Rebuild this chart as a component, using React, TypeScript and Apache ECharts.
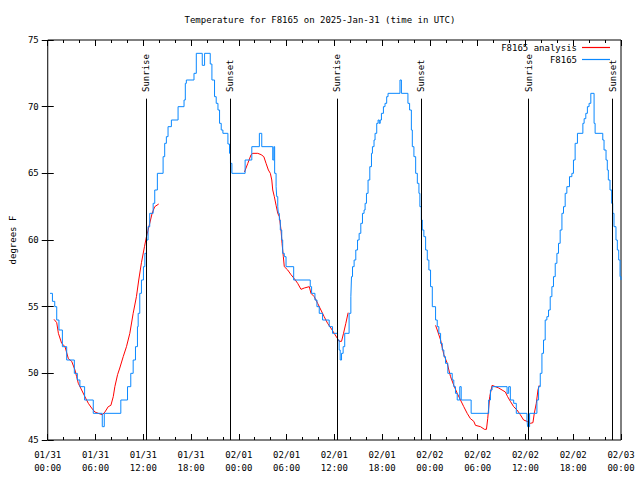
import React, { useEffect, useRef } from "react";
import * as echarts from "echarts";

const titleText = "Temperature for F8165 on 2025-Jan-31 (time in UTC)";
const yAxisName = "degrees F";
const analysisName = "F8165 analysis";
const stationName = "F8165";

const xTickDates = ["01/31", "01/31", "01/31", "01/31", "02/01", "02/01", "02/01", "02/01", "02/02", "02/02", "02/02", "02/02", "02/03"];
const xTickTimes = ["00:00", "06:00", "12:00", "18:00", "00:00", "06:00", "12:00", "18:00", "00:00", "06:00", "12:00", "18:00", "00:00"];

// Sun events (hours since 01/31 00:00 UTC)
const eventHours = [12.36, 22.88, 36.35, 46.87, 60.39, 70.94];
const eventNames = ["Sunrise", "Sunset", "Sunrise", "Sunset", "Sunrise", "Sunset"];
const eventLineTop = 70.6;
const eventLabelBase = 71.1;

// F8165 observations: [hours, degF] (held until next point)
const stationObs: [number, number][] = [
  [0.29, 56.0], [0.59, 55.4], [0.88, 55.0], [1.13, 54.0], [1.41, 53.25], [1.84, 52.0], [2.38, 51.0],
  [3.34, 50.0], [3.72, 49.5], [4.04, 49.0], [4.63, 48.0], [5.72, 47.0], [6.85, 46.0], [7.1, 47.0],
  [9.18, 48.0], [10.02, 49.0], [10.43, 50.0], [10.73, 51.0], [11.02, 52.0], [11.27, 53.5], [11.36, 54.5],
  [11.56, 56.0], [11.77, 57.0], [12.02, 58.0], [12.2, 59.0], [12.4, 60.0], [12.6, 61.0], [12.81, 62.0],
  [13.24, 62.75], [13.44, 63.75], [13.77, 65.0], [14.49, 66.25], [14.69, 67.25], [14.9, 67.75],
  [15.11, 68.5], [15.53, 69.0], [16.37, 70.0], [17.12, 70.5], [17.28, 71.75], [17.41, 72.0],
  [18.37, 72.5], [18.66, 74.0], [19.41, 73.1], [19.7, 74.0], [20.41, 73.2], [20.62, 72.0],
  [20.95, 70.75], [21.16, 70.25], [21.38, 69.75], [21.58, 68.75], [21.79, 68.25], [22.0, 68.0],
  [22.63, 67.2], [22.83, 66.5], [22.95, 65.75], [23.13, 65.0], [24.79, 66.0], [25.63, 67.0],
  [26.58, 68.0], [26.88, 67.0], [28.26, 66.0], [28.4, 67.0], [28.5, 65.0], [28.68, 64.0],
  [28.76, 63.25], [28.89, 62.5], [28.96, 62.0], [29.09, 61.5], [29.21, 60.75], [29.39, 60.0],
  [29.51, 59.0], [29.71, 58.75], [29.93, 58.0], [30.89, 57.0], [32.97, 56.5], [33.14, 56.0],
  [33.56, 55.5], [33.81, 55.0], [34.1, 54.5], [34.52, 54.0], [35.35, 53.5], [35.77, 53.0],
  [36.4, 52.5], [36.6, 51.75], [36.73, 51.0], [36.9, 51.5], [37.1, 52.0], [37.3, 53.0],
  [37.85, 54.5], [38.07, 55.75], [38.15, 57.25], [38.28, 58.0], [38.48, 58.5], [38.69, 59.25],
  [38.91, 60.0], [39.11, 60.5], [39.32, 61.25], [39.53, 62.0], [39.73, 62.25], [39.86, 62.75],
  [40.03, 63.5], [40.23, 64.5], [40.45, 65.5], [40.66, 66.5], [40.78, 67.0], [40.98, 67.5],
  [41.11, 68.0], [41.32, 68.75], [41.49, 69.0], [41.64, 68.75], [41.76, 69.0], [41.91, 69.5],
  [42.16, 70.0], [42.36, 70.25], [42.57, 70.75], [42.74, 71.0], [44.24, 72.0], [44.42, 71.0],
  [45.24, 70.25], [45.45, 69.75], [45.67, 68.25], [45.79, 67.0], [45.99, 66.25], [46.21, 65.0],
  [46.42, 64.25], [46.62, 63.5], [46.74, 62.5], [46.92, 61.5], [47.04, 60.75], [47.24, 60.25],
  [47.46, 59.25], [47.67, 58.5], [47.87, 57.75], [48.08, 56.5], [48.3, 55.0], [48.71, 54.0],
  [48.92, 53.5], [49.12, 53.0], [49.34, 52.25], [49.55, 51.75], [49.75, 51.25], [49.96, 50.75],
  [50.25, 50.0], [50.8, 49.5], [51.0, 49.0], [51.21, 48.5], [51.43, 48.0], [51.75, 49.0],
  [51.93, 48.0], [53.18, 47.0], [55.38, 48.0], [55.6, 48.75], [55.81, 49.0], [57.69, 48.5],
  [57.89, 49.0], [58.1, 48.0], [58.52, 47.75], [58.85, 47.0], [60.19, 46.5], [60.27, 46.0],
  [60.52, 47.0], [61.44, 48.0], [61.65, 49.0], [61.86, 50.0], [62.07, 51.5], [62.27, 52.5],
  [62.48, 54.0], [62.69, 54.25], [62.9, 54.75], [63.11, 55.75], [63.32, 56.5], [63.52, 57.25],
  [63.74, 58.25], [63.95, 59.0], [64.15, 59.75], [64.36, 60.75], [64.58, 62.0], [64.78, 62.5],
  [64.99, 63.5], [65.2, 64.0], [65.53, 64.75], [65.83, 65.0], [66.03, 66.0], [66.24, 67.25],
  [66.53, 68.0], [67.21, 68.75], [67.37, 69.1], [67.58, 69.5], [67.78, 70.0], [67.99, 70.25],
  [68.21, 71.0], [68.62, 68.75], [68.75, 68.0], [69.71, 67.5], [69.87, 66.75], [70.12, 66.0],
  [70.28, 65.25], [70.41, 64.5], [70.62, 63.75], [70.83, 62.75], [70.96, 62.0], [71.12, 61.0],
  [71.37, 60.0], [71.54, 59.25], [71.71, 58.5], [71.88, 57.25], [72.0, 57.0],
];

// F8165 analysis segments: [hours, degF]
const analysisDay1: [number, number][] = [
  [0.79, 54.05], [1.13, 53.8], [1.34, 53.0], [1.75, 52.25], [2.17, 52.0], [2.59, 51.1], [3.01, 50.9],
  [3.42, 50.25], [3.63, 49.75], [3.84, 49.25], [4.26, 48.75], [4.67, 48.25], [5.1, 47.75],
  [5.51, 47.4], [5.92, 47.1], [6.35, 47.0], [6.85, 46.9], [7.18, 47.1], [7.6, 47.5], [7.93, 47.6],
  [8.23, 48.25], [8.43, 49.0], [8.77, 49.9], [9.05, 50.4], [9.48, 51.25], [9.89, 52.0],
  [10.31, 53.0], [10.73, 54.5], [11.14, 55.75], [11.43, 57.0], [11.77, 58.3], [12.15, 59.5],
  [12.4, 60.25], [12.81, 61.25], [13.11, 62.0], [13.44, 62.5], [13.94, 62.7],
];
const analysisDay2: [number, number][] = [
  [24.71, 65.1], [25.13, 65.75], [25.54, 66.4], [25.76, 66.5], [26.38, 66.5], [26.8, 66.4],
  [27.14, 66.25], [27.42, 65.75], [27.71, 65.25], [27.96, 65.0], [28.14, 64.5], [28.26, 63.75],
  [28.46, 63.25], [28.68, 62.6], [28.89, 62.0], [29.09, 61.75], [29.3, 60.75], [29.43, 59.75],
  [29.59, 58.75], [29.71, 58.0], [30.14, 57.75], [30.55, 57.4], [30.97, 57.1], [31.39, 56.75],
  [31.81, 56.3], [32.22, 56.4], [32.85, 56.5], [33.06, 56.0], [33.47, 55.75], [33.9, 55.25],
  [34.31, 54.75], [34.72, 54.25], [35.15, 53.75], [35.56, 53.4], [35.98, 53.0], [36.4, 52.6],
  [36.6, 52.4], [36.9, 52.4], [37.15, 53.0], [37.44, 53.75], [37.73, 54.55],
];
const analysisDay3: [number, number][] = [
  [48.71, 53.6], [48.92, 53.25], [49.34, 52.5], [49.75, 51.4], [50.18, 50.75], [50.38, 50.25],
  [50.59, 49.75], [51.0, 49.1], [51.43, 48.5], [51.84, 48.0], [52.25, 47.5], [52.68, 47.0],
  [53.09, 46.6], [53.51, 46.4], [53.72, 46.1], [54.35, 46.0], [54.85, 45.8], [55.1, 45.8],
  [55.26, 46.6], [55.51, 48.25], [55.81, 49.1], [56.22, 49.0], [56.64, 48.9], [57.06, 48.75],
  [57.48, 48.6], [57.76, 48.25], [58.1, 47.9], [58.52, 47.5], [58.94, 47.25], [59.35, 46.9],
  [59.77, 46.5], [60.19, 46.4], [60.61, 46.25], [60.94, 46.3], [61.11, 47.0], [61.36, 47.75],
  [61.57, 48.75], [61.73, 49.1],
];

const FONT = "'DejaVu Sans Mono', 'Liberation Mono', monospace";
const RED = "#ff0000";
const BLUE = "#0a88ff";

export default function App() {
  const ref = useRef<HTMLDivElement>(null);

  useEffect(() => {
    if (!ref.current) return;
    const chart = echarts.init(ref.current, undefined, { renderer: "svg" });

    const analysisData: any[] = [
      ...analysisDay1,
      [19, "-"],
      ...analysisDay2,
      [43, "-"],
      ...analysisDay3,
    ];

    const tickText = (v: number) => {
      const i = Math.round(v / 6);
      return `${xTickDates[i] ?? ""}\n${xTickTimes[i] ?? ""}`;
    };

    const xCommon = {
      type: "value" as const,
      min: 0,
      max: 72,
      interval: 6,
      axisLine: { show: false },
      splitLine: { show: false },
      axisTick: { show: true, inside: true, length: 6, lineStyle: { color: "#000" } },
      minorTick: { show: true, splitNumber: 3, length: 3, lineStyle: { color: "#000" } },
    };
    const yCommon = {
      type: "value" as const,
      min: 45,
      max: 75,
      interval: 5,
      axisLine: { show: false },
      splitLine: { show: false },
      axisTick: { show: true, inside: true, length: 6, lineStyle: { color: "#000" } },
    };

    chart.setOption({
      animation: false,
      backgroundColor: "#ffffff",
      textStyle: { fontFamily: FONT, fontSize: 9, color: "#000" },
      title: {
        text: titleText,
        left: "center",
        top: 10,
        textStyle: { fontFamily: FONT, fontSize: 9, fontWeight: "normal", color: "#000" },
      },
      legend: {
        data: [analysisName, stationName],
        orient: "vertical",
        align: "right",
        right: 30,
        top: 43,
        padding: 0,
        icon: "rect",
        itemWidth: 28,
        itemHeight: 1.2,
        itemGap: 3,
        textStyle: { fontFamily: FONT, fontSize: 9, color: "#000" },
      },
      grid: {
        left: 46,
        right: 19,
        top: 40,
        bottom: 40,
        show: true,
        borderColor: "#000",
        borderWidth: 1,
        backgroundColor: "transparent",
      },
      xAxis: [
        {
          ...xCommon,
          position: "bottom",
          axisLabel: {
            show: true,
            margin: 8,
            lineHeight: 13,
            fontFamily: FONT,
            fontSize: 9,
            color: "#000",
            formatter: tickText,
          },
        },
        { ...xCommon, position: "top", axisLabel: { show: false } },
      ],
      yAxis: [
        {
          ...yCommon,
          position: "left",
          name: yAxisName,
          nameLocation: "middle",
          nameGap: 30,
          nameTextStyle: { fontFamily: FONT, fontSize: 9, color: "#000" },
          axisLabel: { show: true, margin: 9, fontFamily: FONT, fontSize: 9, color: "#000" },
        },
        { ...yCommon, position: "right", axisLabel: { show: false } },
      ],
      series: [
        {
          name: analysisName,
          type: "line",
          data: analysisData,
          showSymbol: false,
          symbol: "none",
          connectNulls: false,
          color: RED,
          lineStyle: { color: RED, width: 1 },
          z: 3,
        },
        {
          name: stationName,
          type: "line",
          step: "end",
          data: stationObs,
          showSymbol: false,
          symbol: "none",
          color: BLUE,
          lineStyle: { color: BLUE, width: 1 },
          z: 4,
        },
        {
          name: "sun",
          type: "scatter",
          data: eventHours.map((h, i) => ({ value: [h, eventLabelBase], name: eventNames[i] })),
          symbolSize: 0,
          itemStyle: { color: "#000", opacity: 1 },
          label: {
            show: true,
            position: "inside",
            rotate: 90,
            align: "left",
            verticalAlign: "middle",
            formatter: (p: any) => p.name,
            fontFamily: FONT,
            fontSize: 9,
            color: "#000",
            opacity: 1,
          },
          markLine: {
            silent: true,
            symbol: ["none", "none"],
            label: { show: false },
            lineStyle: { color: "#000", width: 1, type: "solid" },
            data: eventHours.map((h) => [
              { coord: [h, 45] },
              { coord: [h, eventLineTop] },
            ]),
          },
          z: 5,
        },
      ],
    });

    return () => chart.dispose();
  }, []);

  return (
    <div
      ref={ref}
      style={{ position: "fixed", left: 0, top: 0, width: 640, height: 480 }}
    />
  );
}
